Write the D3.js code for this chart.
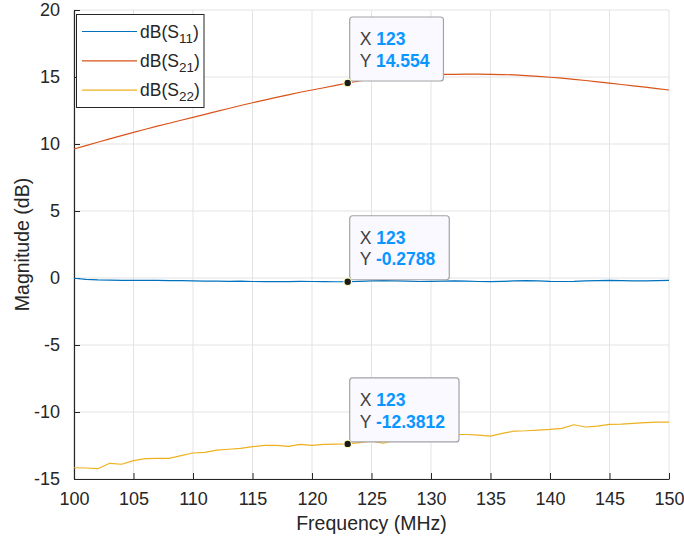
<!DOCTYPE html>
<html>
<head>
<meta charset="utf-8">
<script src="https://cdn.jsdelivr.net/npm/d3@7"></script>
<style>
  html, body { margin: 0; padding: 0; background: #fff; }
  svg { display: block; font-family: "Liberation Sans", Arial, Helvetica, sans-serif; }
</style>
</head>
<body>
<svg id="chart" width="684" height="540"></svg>
<script>
// Frequency sweep (MHz)
const freq = [100,101,102,103,104,105,106,107,108,109,110,111,112,113,114,115,116,117,118,119,120,
  121,122,123,124,125,126,127,128,129,130,131,132,133,134,135,136,137,138,139,140,
  141,142,143,144,145,146,147,148,149,150];

// |S11| in dB
const s11 = [-0.02,-0.10,-0.14,-0.16,-0.17,-0.18,-0.17,-0.18,-0.20,-0.19,-0.21,-0.23,-0.24,-0.25,-0.24,-0.26,
  -0.27,-0.26,-0.27,-0.25,-0.26,-0.27,-0.28,-0.2788,-0.25,-0.22,-0.20,-0.21,-0.24,-0.26,-0.25,-0.23,-0.22,
  -0.24,-0.26,-0.27,-0.25,-0.22,-0.20,-0.22,-0.25,-0.26,-0.25,-0.22,-0.19,-0.18,-0.20,-0.22,-0.21,-0.19,-0.18];

// |S21| in dB
const s21 = [9.63,9.88,10.13,10.38,10.62,10.87,11.10,11.33,11.55,11.77,11.99,12.21,12.43,12.65,12.87,13.08,
  13.28,13.48,13.67,13.86,14.03,14.20,14.38,14.554,14.70,14.84,14.95,15.04,15.10,15.14,15.17,15.19,15.20,
  15.21,15.21,15.20,15.18,15.16,15.11,15.05,14.98,14.91,14.83,14.74,14.64,14.54,14.44,14.34,14.24,14.13,14.03];

// |S22| in dB
const s22 = [-14.16,-14.18,-14.23,-13.83,-13.90,-13.63,-13.48,-13.46,-13.46,-13.26,-13.06,-13.01,-12.84,-12.78,
  -12.71,-12.59,-12.49,-12.49,-12.56,-12.41,-12.49,-12.41,-12.39,-12.3812,-12.28,-12.18,-12.33,-12.10,-11.95,
  -11.85,-11.78,-11.72,-11.68,-11.68,-11.72,-11.80,-11.60,-11.42,-11.40,-11.35,-11.30,-11.22,-10.95,-11.12,
  -11.05,-10.93,-10.90,-10.85,-10.80,-10.75,-10.75];

const seriesNames = ["11", "21", "22"];
const seriesColors = ["#0072BD", "#D95319", "#EDB120"];
const seriesValues = [s11, s21, s22];

const xTicks = [100,105,110,115,120,125,130,135,140,145,150];
const yTicks = [-15,-10,-5,0,5,10,15,20];

// Data tips pinned at one frequency
const tipFreq = 123;
const tipLabels = ["-0.2788", "14.554", "-12.3812"];

const svg = d3.select("#chart");
const margin = { left: 74, right: 15, top: 10, bottom: 61 };
const W = 684, H = 540;
const x = d3.scaleLinear().domain([100, 150]).range([margin.left, W - margin.right]);
const y = d3.scaleLinear().domain([-15, 20]).range([H - margin.bottom, margin.top]);

const axisColor = "#262626";

// grid
const grid = svg.append("g");
grid.selectAll("line.vx").data(xTicks).join("line")
  .attr("x1", d => x(d)).attr("x2", d => x(d))
  .attr("y1", y(-15)).attr("y2", y(20))
  .attr("stroke", "#e3e3e3").attr("stroke-width", 1);
grid.selectAll("line.hy").data(yTicks).join("line")
  .attr("x1", x(100)).attr("x2", x(150))
  .attr("y1", d => y(d)).attr("y2", d => y(d))
  .attr("stroke", "#e3e3e3").attr("stroke-width", 1);

// axes (plain hyphen for negatives)
const fmt = d => String(d);
const xAxis = d3.axisBottom(x).tickValues(xTicks).tickFormat(fmt).tickSizeInner(-6).tickSizeOuter(0).tickPadding(13);
const yAxis = d3.axisLeft(y).tickValues(yTicks).tickFormat(fmt).tickSizeInner(-6).tickSizeOuter(0).tickPadding(14);

const gx = svg.append("g").attr("transform", `translate(0,${y(-15)})`).call(xAxis);
const gy = svg.append("g").attr("transform", `translate(${x(100)},0)`).call(yAxis);
[gx, gy].forEach(g => {
  g.select(".domain").attr("stroke", axisColor).attr("stroke-width", 1.2);
  g.selectAll(".tick line").attr("stroke", axisColor).attr("stroke-width", 1);
  g.selectAll(".tick text").attr("fill", axisColor).attr("font-size", 18)
    .attr("font-family", "Liberation Sans, Arial, sans-serif");
});
gx.selectAll(".tick text").attr("dy", "0.71em");

// series lines
const line = d3.line().x((d, i) => x(freq[i])).y(d => y(d));
seriesValues.forEach((vals, k) => {
  svg.append("path").datum(vals)
    .attr("fill", "none")
    .attr("stroke", seriesColors[k])
    .attr("stroke-width", 1.2)
    .attr("stroke-linejoin", "round")
    .attr("d", line);
});

// axis labels
svg.append("text")
  .attr("x", (x(100) + x(150)) / 2).attr("y", 530)
  .attr("text-anchor", "middle").attr("font-size", 19.5).attr("fill", axisColor)
  .text("Frequency (MHz)");
svg.append("text")
  .attr("transform", `translate(29,${(y(-15) + y(20)) / 2}) rotate(-90)`)
  .attr("text-anchor", "middle").attr("font-size", 19.5).attr("fill", axisColor)
  .text("Magnitude (dB)");

// legend
const legend = svg.append("g");
legend.append("rect")
  .attr("x", 76.5).attr("y", 14.5).attr("width", 127.5).attr("height", 93)
  .attr("fill", "#fff").attr("stroke", axisColor).attr("stroke-width", 1);
seriesNames.forEach((name, k) => {
  const cy = 31.5 + k * 29.3;
  legend.append("line")
    .attr("x1", 82).attr("x2", 137).attr("y1", cy).attr("y2", cy)
    .attr("stroke", seriesColors[k]).attr("stroke-width", 1.2);
  const t = legend.append("text")
    .attr("x", 140).attr("y", cy + 6)
    .attr("font-size", 17.5).attr("fill", axisColor);
  t.append("tspan").text("dB(S");
  t.append("tspan").attr("font-size", 13.5).attr("dy", 5).text(name);
  t.append("tspan").attr("dy", -5).text(")");
});

// data tips
const tipIdx = freq.indexOf(tipFreq);
const tipFont = 17.5;
seriesValues.forEach((vals, k) => {
  const px = x(freq[tipIdx]);
  const py = y(vals[tipIdx]);
  const g = svg.append("g");
  const bx = px + 2, bh = 64, by = py - 2 - bh;
  const rect = g.append("rect")
    .attr("x", bx).attr("y", by).attr("height", bh)
    .attr("rx", 3).attr("ry", 3)
    .attr("fill", "#f9f9ff").attr("stroke", "#a3a3a8").attr("stroke-width", 1.2);
  const tx = g.append("text").attr("x", bx + 10).attr("y", by + 28)
    .attr("font-size", tipFont).attr("fill", "#404040");
  tx.append("tspan").text("X ");
  tx.append("tspan").attr("font-weight", "bold").attr("fill", "#0a96ff").text(String(tipFreq));
  const ty = g.append("text").attr("x", bx + 10).attr("y", by + 49.7)
    .attr("font-size", tipFont).attr("fill", "#404040");
  ty.append("tspan").text("Y ");
  ty.append("tspan").attr("font-weight", "bold").attr("fill", "#0a96ff").text(tipLabels[k]);
  const w = Math.max(tx.node().getComputedTextLength(), ty.node().getComputedTextLength());
  rect.attr("width", w + 24);
  svg.append("circle").attr("cx", px).attr("cy", py).attr("r", 3.8)
    .attr("fill", "#1a1a1a").attr("stroke", "#ffffc0").attr("stroke-width", 1.2);
});
</script>
</body>
</html>
